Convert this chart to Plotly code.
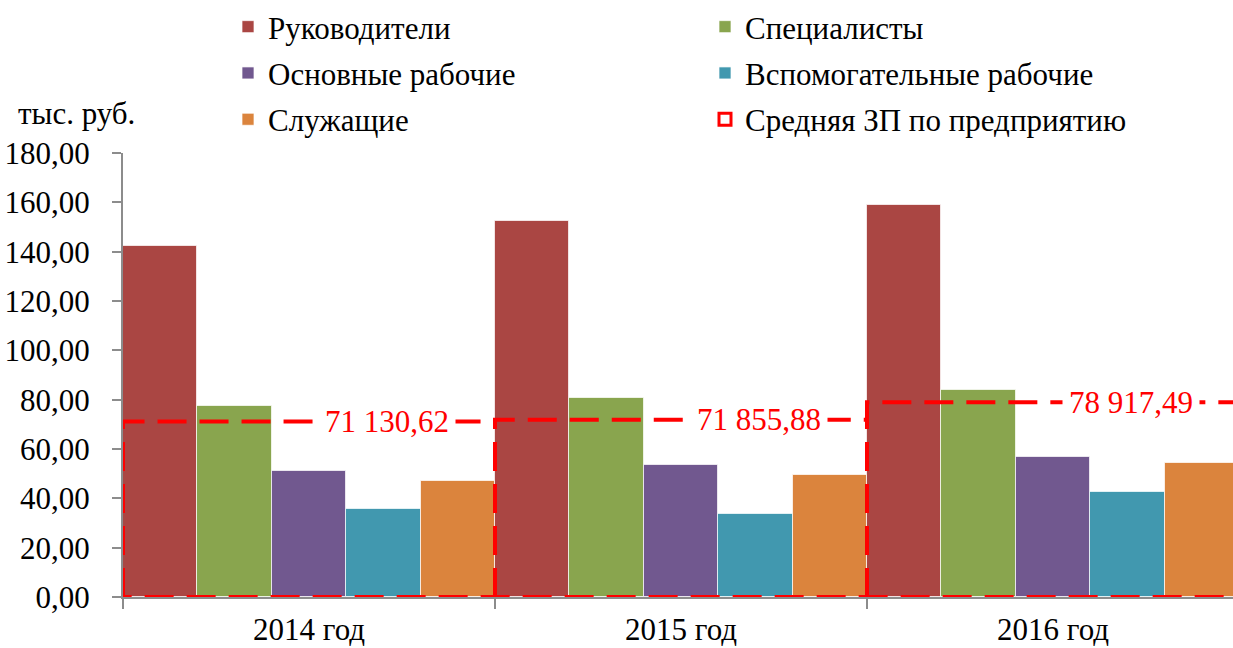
import plotly.graph_objects as go

# ---------------- data ----------------
categories = ["2014 год", "2015 год", "2016 год"]
series_names = ["Руководители", "Специалисты", "Основные рабочие",
                "Вспомогательные рабочие", "Служащие"]
rukovoditeli = [142.3, 152.5, 159.0]
specialisty = [77.5, 80.8, 83.9]
osnovnye_rabochie = [51.1, 53.4, 56.9]
vspomog_rabochie = [35.5, 33.5, 42.6]
sluzhashchie = [47.0, 49.3, 54.3]
avg_name = "Средняя ЗП по предприятию"
avg_salary = [71130.62, 71855.88, 78917.49]   # руб.
y_tick_values = [0, 20, 40, 60, 80, 100, 120, 140, 160, 180]
y_unit = "тыс. руб."

series_values = [rukovoditeli, specialisty, osnovnye_rabochie,
                 vspomog_rabochie, sluzhashchie]
colors = ["#AA4643", "#89A54E", "#71588F", "#4198AF", "#DB843D"]

FONT = "Liberation Serif, serif"
FS = 31

W, H = 1233, 648
ML, MR, MT, MB = 123, 0, 153, 51
plot_w = W - ML - MR
plot_h = H - MT - MB
cat_px = 372.0
x_max = -0.5 + plot_w / cat_px

fig = go.Figure()

legend_of = {0: "legend", 2: "legend", 4: "legend", 1: "legend2", 3: "legend2"}

for i, (name, vals, col) in enumerate(zip(series_names, series_values, colors)):
    fig.add_trace(go.Bar(
        x=categories, y=vals, name=name,
        marker=dict(color=col, line=dict(color="rgba(255,255,255,0.7)", width=1)),
        legend=legend_of[i], legendgroup=name,
    ))

# average salary: dashed outline of a full-width bar per category (secondary axes)
n = len(avg_salary)
xs, ys = [], []
for i, v in enumerate(avg_salary):
    # left edge + top edge of each category's bar
    xs += [i - 0.5, i - 0.5, i + 0.5, None]
    ys += [0, v, v, None]
# right edge of the last bar and the common baseline
xs += [n - 0.5, n - 0.5, -0.5]
ys += [avg_salary[-1], 0, 0]
fig.add_trace(go.Scatter(
    x=xs, y=ys, xaxis="x2", yaxis="y2", mode="lines",
    line=dict(color="#FF0000", width=4, dash="29px,13px"),
    showlegend=False, hoverinfo="skip", name=avg_name,
))
# legend entry for average (kept on secondary axes so it does not affect grouping)
fig.add_trace(go.Bar(
    x=[0], y=[None], name=avg_name, xaxis="x2", yaxis="y2",
    marker=dict(color="white", line=dict(color="#FF0000", width=3)),
    legend="legend2", legendgroup=avg_name,
))


def fmt(v):
    s = f"{v:,.2f}"
    return s.replace(",", " ").replace(".", ",")


for i, v in enumerate(avg_salary):
    fig.add_annotation(
        x=i + 0.21, y=v, xref="x2", yref="y2", text=fmt(v),
        showarrow=False, bgcolor="white", borderpad=6,
        font=dict(family=FONT, size=FS, color="#FF0000"),
        xanchor="center", yanchor="middle",
    )

fig.add_annotation(
    x=(16 - ML) / plot_w, y=(H - MB - 113) / plot_h,
    xref="paper", yref="paper", text=y_unit, showarrow=False,
    xanchor="left", yanchor="middle",
    font=dict(family=FONT, size=FS, color="black"),
)

fig.update_layout(
    template="none",
    width=W, height=H,
    margin=dict(l=ML, r=MR, t=MT, b=MB, autoexpand=False),
    paper_bgcolor="white", plot_bgcolor="white",
    barmode="group", bargap=0, bargroupgap=0,
    separators=", ",
    font=dict(family=FONT, size=FS, color="black"),
    showlegend=True,
    xaxis=dict(
        type="category", range=[-0.5, x_max], showgrid=False, automargin=False,
        showline=True, linecolor="#8C8C8C", linewidth=2,
        ticks="outside", tickson="boundaries", ticklen=10,
        tickcolor="#8C8C8C", tickwidth=2, ticklabelstandoff=4,
        tickfont=dict(family=FONT, size=FS, color="black"),
        zeroline=False,
    ),
    yaxis=dict(
        range=[0, 180], tickvals=y_tick_values, tickformat=".2f", automargin=False,
        showgrid=False, showline=True, linecolor="#8C8C8C", linewidth=2,
        ticks="outside", ticklen=9, tickcolor="#8C8C8C", tickwidth=2,
        ticklabelstandoff=16, zeroline=False,
        tickfont=dict(family=FONT, size=FS, color="black"),
    ),
    xaxis2=dict(overlaying="x", range=[-0.5, x_max], visible=False,
                showgrid=False, zeroline=False),
    yaxis2=dict(overlaying="y", range=[0, 180000], visible=False,
                showgrid=False, zeroline=False),
    legend=dict(
        x=(228 - ML) / plot_w, y=(H - MB) / plot_h,
        xanchor="left", yanchor="top", orientation="v",
        font=dict(family=FONT, size=FS, color="black"),
        bgcolor="rgba(0,0,0,0)", tracegroupgap=3, traceorder="grouped",
    ),
    legend2=dict(
        x=(705 - ML) / plot_w, y=(H - MB) / plot_h,
        xanchor="left", yanchor="top", orientation="v",
        font=dict(family=FONT, size=FS, color="black"),
        bgcolor="rgba(0,0,0,0)", tracegroupgap=3, traceorder="grouped",
    ),
)

fig.write_html("out.html", config={"displayModeBar": False},
               post_script="document.body.style.margin='0';document.body.style.padding='0';")
